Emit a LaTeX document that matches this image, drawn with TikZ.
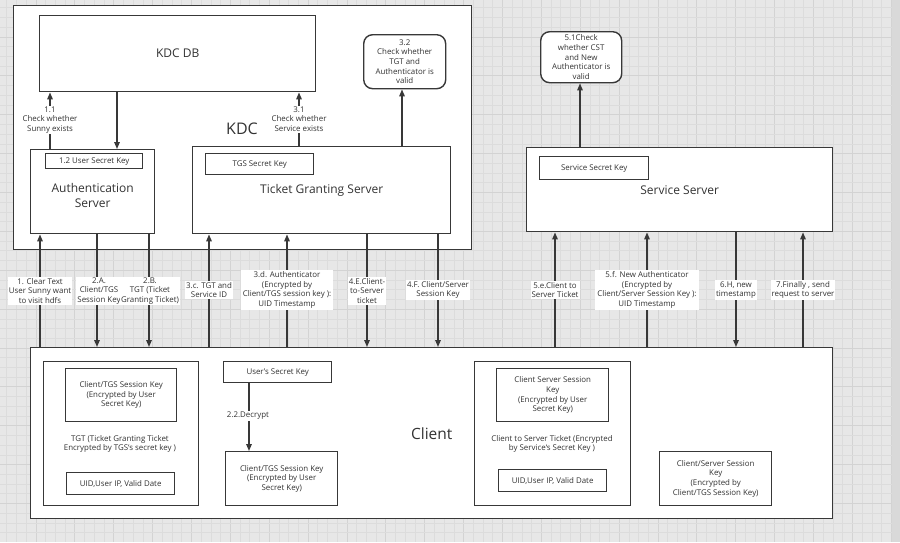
\documentclass[tikz,border=0pt]{standalone}
\usepackage{fontspec}
\setmainfont{Open Sans}
\usetikzlibrary{arrows.meta}
\definecolor{lc}{HTML}{383838}
\definecolor{bgc}{HTML}{E7E7E7}
\definecolor{minc}{HTML}{DCDCDC}
\definecolor{majc}{HTML}{D3D3D3}
\definecolor{stripc}{HTML}{D9D9D9}
\definecolor{txc}{HTML}{333333}
\newcommand{\fsmall}{\fontsize{7.9}{9.6}\selectfont}
\newcommand{\fmid}{\fontsize{12}{15}\selectfont}
\tikzset{
  box/.style={draw=lc, line width=1.4pt, fill=white, inner sep=0pt, anchor=north west, text=txc},
  rbox/.style={box, rounded corners=9pt},
  lbl/.style={fill=white, font=\fsmall, align=center, inner sep=1pt, text=txc},
  txt/.style={font=\fsmall, align=center, inner sep=0pt, text=txc},
  arr/.style={draw=lc, line width=1.4pt, -{Triangle[length=7pt,width=5.5pt]}},
}
\begin{document}
\begin{tikzpicture}[x=1pt,y=-1pt]
\useasboundingbox (0,0) rectangle (900,542);
% background grid
\fill[bgc] (0,0) rectangle (892,542);
\fill[stripc] (892,0) rectangle (900,542);
\foreach \i in {0,...,91} {
  \pgfmathsetmacro{\xx}{6.8+9.72*\i}
  \pgfmathtruncatemacro{\mm}{mod(\i+1,4)}
  \ifnum\mm=0 \draw[majc,line width=0.9pt] (\xx,0) -- (\xx,542);
  \else \draw[minc,line width=0.7pt] (\xx,0) -- (\xx,542); \fi
}
\foreach \i in {0,...,55} {
  \pgfmathsetmacro{\yy}{-1.9+9.72*\i}
  \pgfmathtruncatemacro{\mm}{mod(\i,4)}
  \ifnum\mm=0 \draw[majc,line width=0.9pt] (0,\yy) -- (892,\yy);
  \else \draw[minc,line width=0.7pt] (0,\yy) -- (892,\yy); \fi
}

% KDC container
\node[box, minimum width=458pt, minimum height=244pt] (kdc) at (13,5) {};
\node[font=\fontsize{16}{18}\selectfont, text=txc, inner sep=0pt] (kdclbl) at (242,129) {KDC};
\node[box, minimum width=276pt, minimum height=76pt, font=\fmid] (db) at (39,15) {KDC DB};
\node[rbox, minimum width=82pt, minimum height=54pt, font=\fsmall, align=center] (c32) at (363,34) {3.2\\Check whether\\TGT and\\Authenticator is\\valid};
\node[box, minimum width=124pt, minimum height=84pt, font=\fmid, align=center] (as) at (30,149) {\\[2pt]Authentication\\Server};
\node[box, minimum width=97pt, minimum height=15pt, font=\fsmall] (usk) at (45,153) {1.2 User Secret Key};
\node[box, minimum width=258pt, minimum height=87pt, font=\fmid] (tgs) at (192,146) {\raisebox{-3pt}{Ticket Granting Server}};
\node[box, minimum width=108pt, minimum height=21pt, font=\fsmall] (tsk) at (205,153) {TGS Secret Key};

% Service server
\node[rbox, minimum width=81pt, minimum height=51pt, font=\fsmall, align=center] (c51) at (540,31) {5.1Check\\whether CST\\and New\\Authenticator is\\valid};
\node[box, minimum width=306pt, minimum height=84pt, font=\fmid] (ss) at (526,147) {\raisebox{-3pt}{Service Server}};
\node[box, minimum width=109pt, minimum height=23pt, font=\fsmall] (ssk) at (539,156) {Service Secret Key};

% Client
\node[box, minimum width=802pt, minimum height=171pt, font=\fontsize{15.5}{17}\selectfont] (client) at (30,347) {\raisebox{-2pt}{Client}};
\node[box, minimum width=155pt, minimum height=144pt] (tgt) at (43,361) {};
\node[box, minimum width=111pt, minimum height=53pt, font=\fsmall, align=center] (ctk1) at (65,368) {Client/TGS Session Key\\(Encrypted by User\\Secret Key)};
\node[txt] (tgttxt) at (120,444) {TGT (Ticket Granting Ticket\\Encrypted by TGS`s secret key )};
\node[box, minimum width=108pt, minimum height=22pt, font=\fsmall] (uid1) at (66,472) {UID,User IP, Valid Date};
\node[box, minimum width=108pt, minimum height=21pt, font=\fsmall] (usk2) at (223,361) {User's Secret Key};
\node[box, minimum width=112pt, minimum height=54pt, font=\fsmall, align=center] (ctk2) at (225,451) {Client/TGS Session Key\\(Encrypted by User\\Secret Key)};
\node[box, minimum width=156pt, minimum height=144pt] (cst) at (474,361) {};
\node[box, minimum width=112pt, minimum height=53pt, font=\fsmall, align=center] (csk1) at (496,368) {Client Server Session\\Key\\(Encrypted by User\\Secret Key)};
\node[txt] (csttxt) at (552,444) {Client to Server Ticket (Encrypted\\by Service`s Secret Key )};
\node[box, minimum width=108pt, minimum height=22pt, font=\fsmall] (uid2) at (498,469) {UID,User IP, Valid Date};
\node[box, minimum width=112pt, minimum height=54pt, font=\fsmall, align=center] (csk2) at (659,451) {Client/Server Session\\Key\\(Encrypted by\\Client/TGS Session Key)};

% arrows inside KDC
\draw[arr] (as.north -| 50,0) -- (db.south -| 50,0);
\draw[arr] (db.south -| 117,0) -- (as.north -| 117,0);
\draw[arr] (tgs.north -| 299,0) -- (db.south -| 299,0);
\draw[arr] (tgs.north -| 402,0) -- (c32.south -| 402,0);
\draw[arr] (ss.north -| 580,0) -- (c51.south -| 580,0);
\draw[arr] (usk2.south -| 249,0) -- (ctk2.north -| 249,0);
\node[lbl] (l11) at (50,120) {1.1\\Check whether\\Sunny exists};
\node[lbl] (l31) at (299,119) {3.1\\Check whether\\Service exists};
\node[lbl] (l22) at (248,416) {2.2.Decrypt};

% arrows between client and servers
\draw[arr] (client.north -| 40,0) -- (as.south -| 40,0);
\draw[arr] (as.south -| 97,0) -- (client.north -| 97,0);
\draw[arr] (as.south -| 149,0) -- (client.north -| 149,0);
\draw[arr] (client.north -| 209,0) -- (tgs.south -| 209,0);
\draw[arr] (client.north -| 287,0) -- (tgs.south -| 287,0);
\draw[arr] (tgs.south -| 367,0) -- (client.north -| 367,0);
\draw[arr] (tgs.south -| 438,0) -- (client.north -| 438,0);
\draw[arr] (client.north -| 555,0) -- (ss.south -| 555,0);
\draw[arr] (client.north -| 647,0) -- (ss.south -| 647,0);
\draw[arr] (ss.south -| 736,0) -- (client.north -| 736,0);
\draw[arr] (client.north -| 803,0) -- (ss.south -| 803,0);

\node[lbl] (l1) at (40,291) {1. Clear Text\\User Sunny want\\to visit hdfs};
\node[lbl] (l2a) at (99,291) {2.A.\\Client/TGS\\Session Key};
\node[lbl] (l2b) at (150,291) {2.B.\\TGT (Ticket\\Granting Ticket)};
\node[lbl] (l3c) at (209,290) {3.c. TGT and\\Service ID};
\node[lbl, inner sep=2pt] (l3d) at (287,290) {3.d. Authenticator\\(Encrypted by\\Client/TGS session key ):\\UID Timestamp};
\node[lbl] (l4e) at (367,291) {4.E.Client-\\to-Server\\ticket};
\node[lbl] (l4f) at (438,290) {4.F. Client/Server\\Session Key};
\node[lbl] (l5e) at (555,290) {5.e.Client to\\Server Ticket};
\node[lbl, inner sep=2pt] (l5f) at (647,290) {5.f. New Authenticator\\(Encrypted by\\Client/Server Session Key ):\\UID Timestamp};
\node[lbl] (l6h) at (736,290) {6.H, new\\timestamp};
\node[lbl] (l7) at (803,290) {7.Finally , send\\request to server};
\end{tikzpicture}
\end{document}
